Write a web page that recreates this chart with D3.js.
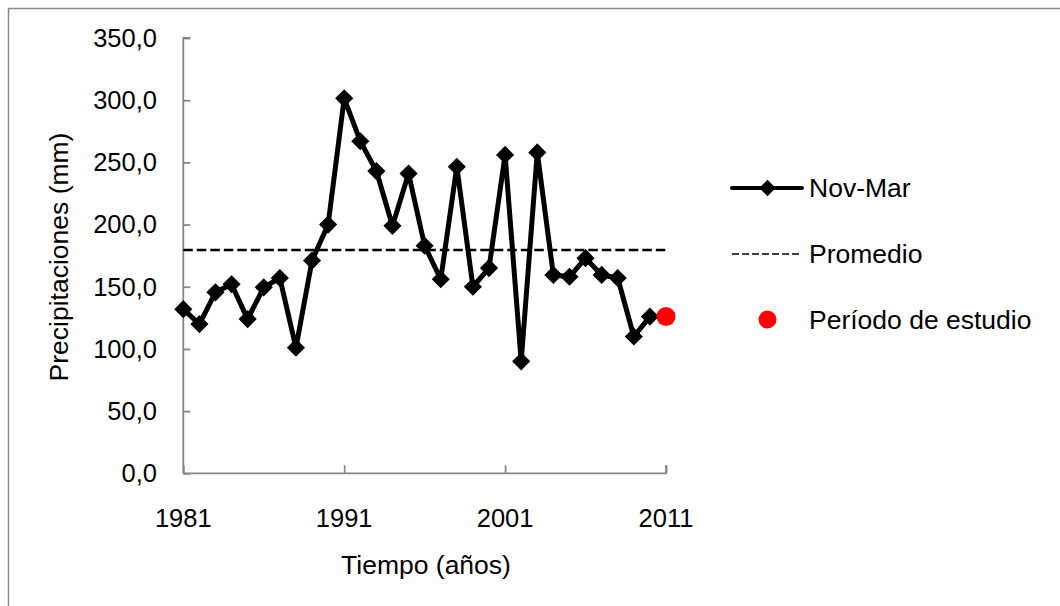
<!DOCTYPE html>
<html>
<head>
<meta charset="utf-8">
<script src="https://cdn.jsdelivr.net/npm/d3@7"></script>
<style>
  html, body { margin: 0; padding: 0; background: #fff; }
  svg { display: block; }
  text { font-family: "Liberation Sans", Arial, sans-serif; fill: #000; }
</style>
</head>
<body>
<svg id="chart" width="1060" height="606"></svg>
<script>
// Precipitación acumulada noviembre–marzo por año
const years = d3.range(1981, 2011);
const novMar = [132, 120, 145.5, 152, 124, 149.5, 157, 101, 171, 200,
                301.5, 267, 243, 199, 241, 183, 156, 246.5, 150, 165,
                256, 90, 258, 159.5, 158, 173, 159.5, 157, 110, 126];
const promedio = 179.5;
const estudioYear = [2011];
const estudioValue = [126];
const yTicks = [0, 50, 100, 150, 200, 250, 300, 350];
const xTicks = [1981, 1991, 2001, 2011];
const legendLabels = ["Nov-Mar", "Promedio", "Período de estudio"];

const svg = d3.select("#chart");
const axisColor = "#868686";
const tickFs = 25.5;
const fs = 26.5;

// outer frame
svg.append("rect")
  .attr("x", 8.5).attr("y", 8.5)
  .attr("width", 1200).attr("height", 800)
  .attr("fill", "none").attr("stroke", "#8a8a8a").attr("stroke-width", 1.5);

const x = d3.scaleLinear().domain([1981, 2011]).range([183.3, 666]);
const y = d3.scaleLinear().domain([0, 350]).range([473.3, 38]);

const fmt = v => d3.format(".1f")(v).replace(".", ",");

// y axis (ticks drawn inward)
const yAxis = svg.append("g")
  .attr("transform", `translate(${x.range()[0]},0)`)
  .call(d3.axisRight(y).tickValues(yTicks).tickSize(7).tickFormat(""));
yAxis.select(".domain").attr("stroke", axisColor).attr("stroke-width", 1.8)
  .attr("d", `M7,${y(350)}H0V${y(0)}`);
yAxis.selectAll(".tick line").attr("stroke", axisColor).attr("stroke-width", 1.8);

svg.append("g").selectAll("text").data(yTicks).join("text")
  .attr("x", 157).attr("y", d => y(d))
  .attr("dy", "0.35em")
  .attr("text-anchor", "end")
  .style("font-size", tickFs + "px")
  .text(fmt);

// x axis (ticks drawn inward)
const xAxis = svg.append("g")
  .attr("transform", `translate(0,${y(0)})`)
  .call(d3.axisTop(x).tickValues(xTicks).tickSize(8).tickFormat(""));
xAxis.select(".domain").attr("stroke", axisColor).attr("stroke-width", 1.8)
  .attr("d", `M${x(1981)},0H${x(2011)}V-8`);
xAxis.selectAll(".tick line").attr("stroke", axisColor).attr("stroke-width", 1.8);

svg.append("g").selectAll("text").data(xTicks).join("text")
  .attr("x", d => x(d)).attr("y", 527)
  .attr("text-anchor", "middle")
  .style("font-size", tickFs + "px")
  .text(d => d);

// axis titles
svg.append("text")
  .attr("x", 426).attr("y", 574)
  .attr("text-anchor", "middle")
  .style("font-size", fs + "px")
  .text("Tiempo (años)");

svg.append("text")
  .attr("transform", "translate(68,257) rotate(-90)")
  .attr("text-anchor", "middle")
  .style("font-size", fs + "px")
  .text("Precipitaciones (mm)");

// average line
svg.append("line")
  .attr("x1", x(1981)).attr("x2", x(2011))
  .attr("y1", y(promedio)).attr("y2", y(promedio))
  .attr("stroke", "#000").attr("stroke-width", 2.4)
  .attr("stroke-dasharray", "9.5,4");

// series line
const data = years.map((yr, i) => ({ year: yr, value: novMar[i] }));
const line = d3.line()
  .x(d => x(d.year)).y(d => y(d.value));
svg.append("path")
  .datum(data)
  .attr("d", line)
  .attr("fill", "none")
  .attr("stroke", "#000")
  .attr("stroke-width", 5)
  .attr("stroke-linejoin", "round");

const diamond = d3.symbol().type(d3.symbolDiamond2).size(210);
svg.append("g").selectAll("path").data(data).join("path")
  .attr("transform", d => `translate(${x(d.year)},${y(d.value)})`)
  .attr("d", diamond)
  .attr("fill", "#000");

// study period point
svg.append("g").selectAll("circle").data(estudioYear).join("circle")
  .attr("cx", d => x(d)).attr("cy", (d, i) => y(estudioValue[i]))
  .attr("r", 9.5)
  .attr("fill", "#ff0000");

// legend
const lg = svg.append("g");
lg.append("line").attr("x1", 732).attr("x2", 802).attr("y1", 188).attr("y2", 188)
  .attr("stroke", "#000").attr("stroke-width", 4).attr("stroke-linecap", "round");
lg.append("path").attr("transform", "translate(767.5,188)")
  .attr("d", d3.symbol().type(d3.symbolDiamond2).size(170)).attr("fill", "#000");
lg.append("line").attr("x1", 732).attr("x2", 802).attr("y1", 254).attr("y2", 254)
  .attr("stroke", "#000").attr("stroke-width", 1.6).attr("stroke-dasharray", "7,3");
lg.append("circle").attr("cx", 767.5).attr("cy", 319.5).attr("r", 9).attr("fill", "#ff0000");
lg.selectAll("text").data(legendLabels).join("text")
  .attr("x", 809).attr("y", (d, i) => [188, 254, 320][i])
  .attr("dy", "0.35em")
  .style("font-size", fs + "px")
  .text(d => d);
</script>
</body>
</html>
